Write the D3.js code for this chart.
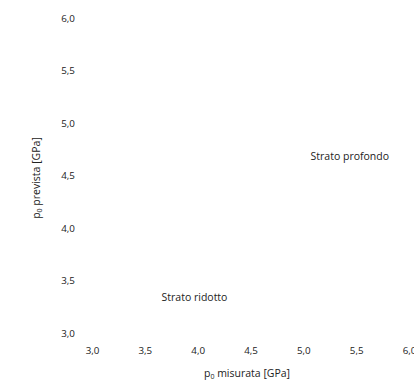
<!DOCTYPE html>
<html>
<head>
<meta charset="utf-8">
<script src="https://cdn.jsdelivr.net/npm/d3@7"></script>
<style>
  body { margin: 0; background: #fff; }
  svg text { font-family: "Open Sans", "Noto Sans", sans-serif; fill: #222; }
</style>
</head>
<body>
<svg width="414" height="383"></svg>
<script>
// valori degli assi
let tick_x = [3.0, 3.5, 4.0, 4.5, 5.0, 5.5, 6.0];
let tick_y = [3.0, 3.5, 4.0, 4.5, 5.0, 5.5, 6.0];

// etichette degli strati
let strati = ["Strato profondo", "Strato ridotto"];
let strati_x = [5.44, 3.97];
let strati_y = [4.68, 3.34];

let $svg = d3.select("svg");

let x = d3.scaleLinear().domain([3, 6]).range([92, 409]);
let y = d3.scaleLinear().domain([3, 6]).range([333, 18]);

let fmt = d => d3.format(".1f")(d).replace(".", ",");
let fs = 9.8;
let fs_titolo = 10.5;

// asse y (solo etichette)
let ax_y = d3.axisLeft(y).tickValues(tick_y).tickFormat(fmt).tickSize(0).tickPadding(0);
let gy = $svg.append("g").attr("transform", "translate(68,0)").call(ax_y);
gy.select(".domain").remove();
gy.selectAll("text")
  .attr("text-anchor", "middle")
  .attr("font-size", fs)
  .attr("font-family", null);

// asse x (solo etichette)
let ax_x = d3.axisBottom(x).tickValues(tick_x).tickFormat(fmt).tickSize(0).tickPadding(0);
let gx = $svg.append("g").attr("transform", "translate(0,347)").call(ax_x);
gx.select(".domain").remove();
gx.selectAll("text")
  .attr("font-size", fs)
  .attr("font-family", null);

// titoli degli assi
let tx = $svg.append("text")
  .attr("x", 247)
  .attr("y", 377)
  .attr("text-anchor", "middle")
  .attr("font-size", fs_titolo);
tx.append("tspan").text("p");
tx.append("tspan").attr("font-size", 7).attr("dy", 1.5).text("0");
tx.append("tspan").attr("dy", -1.5).text(" misurata [GPa]");

let ty = $svg.append("text")
  .attr("transform", "translate(40,178) rotate(-90)")
  .attr("text-anchor", "middle")
  .attr("font-size", fs_titolo);
ty.append("tspan").text("p");
ty.append("tspan").attr("font-size", 7).attr("dy", 1.5).text("0");
ty.append("tspan").attr("dy", -1.5).text(" prevista [GPa]");

// annotazioni
$svg.selectAll("text.strato").data(strati)
  .enter()
  .append("text")
  .classed("strato", true)
  .attr("x", (d, i) => x(strati_x[i]))
  .attr("y", (d, i) => y(strati_y[i]))
  .attr("dy", "0.35em")
  .attr("text-anchor", "middle")
  .attr("font-size", fs_titolo)
  .text(d => d);
</script>
</body>
</html>
